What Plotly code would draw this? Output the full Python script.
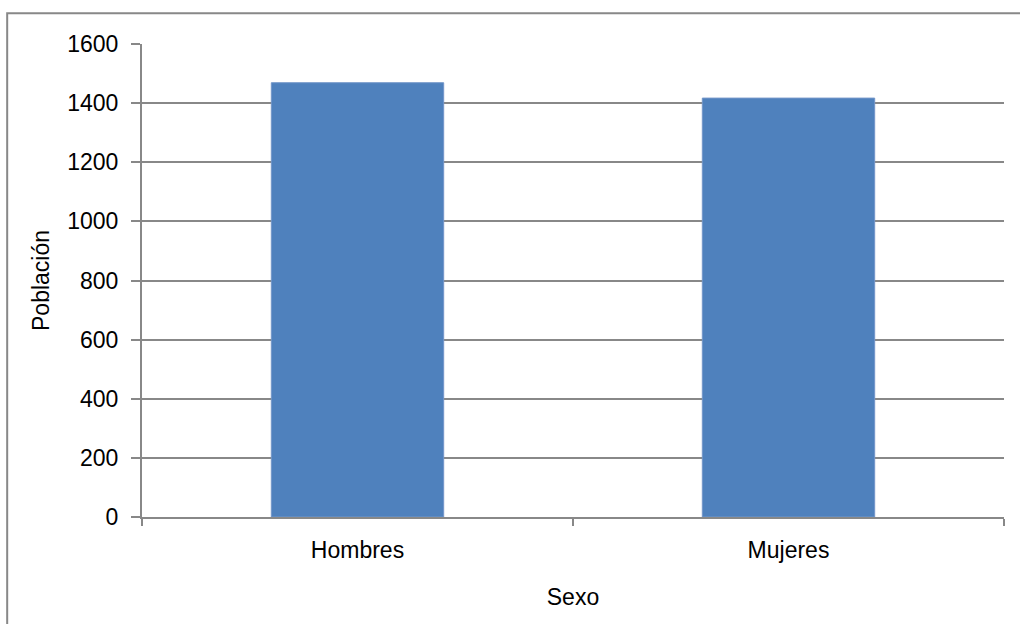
import plotly.graph_objects as go

# Population by sex
categorias = ["Hombres", "Mujeres"]
poblacion = [1469, 1417]
y_ticks = [0, 200, 400, 600, 800, 1000, 1200, 1400, 1600]

FONT = "Liberation Sans, Arial, sans-serif"
FSIZE = 23
GRAY = "#888888"

fig = go.Figure(
    go.Bar(
        x=categorias,
        y=poblacion,
        width=0.4,
        marker=dict(color="#4F81BD", line=dict(color="#7396c9", width=1)),
        hoverinfo="x+y",
    )
)

fig.update_layout(
    width=1020,
    height=624,
    margin=dict(l=142, r=16, t=44, b=107),
    paper_bgcolor="white",
    plot_bgcolor="white",
    showlegend=False,
    font=dict(family=FONT, size=FSIZE, color="#000000"),
    xaxis=dict(
        type="category",
        showline=True,
        linecolor=GRAY,
        linewidth=2,
        ticks="outside",
        tickson="boundaries",
        ticklen=7,
        tickwidth=2,
        tickcolor=GRAY,
        showgrid=False,
        ticklabelstandoff=11,
        tickfont=dict(family=FONT, size=FSIZE),
        title=dict(text="Sexo", font=dict(family=FONT, size=FSIZE), standoff=27),
    ),
    yaxis=dict(
        range=[0, 1600],
        tickvals=y_ticks,
        showline=True,
        linecolor=GRAY,
        linewidth=2,
        ticks="outside",
        ticklen=9,
        tickwidth=2,
        tickcolor=GRAY,
        showgrid=True,
        gridcolor=GRAY,
        gridwidth=2,
        zeroline=False,
        ticklabelstandoff=8,
        tickfont=dict(family=FONT, size=FSIZE),
        title=dict(text="Población", font=dict(family=FONT, size=FSIZE), standoff=11),
    ),
    shapes=[
        # chart frame
        dict(
            type="rect",
            xref="paper",
            yref="paper",
            x0=-0.1564,
            x1=1.2,
            y0=-0.26,
            y1=1.065,
            line=dict(color=GRAY, width=2),
            fillcolor="rgba(0,0,0,0)",
            layer="below",
        )
    ],
)

fig.write_html("out.html")
